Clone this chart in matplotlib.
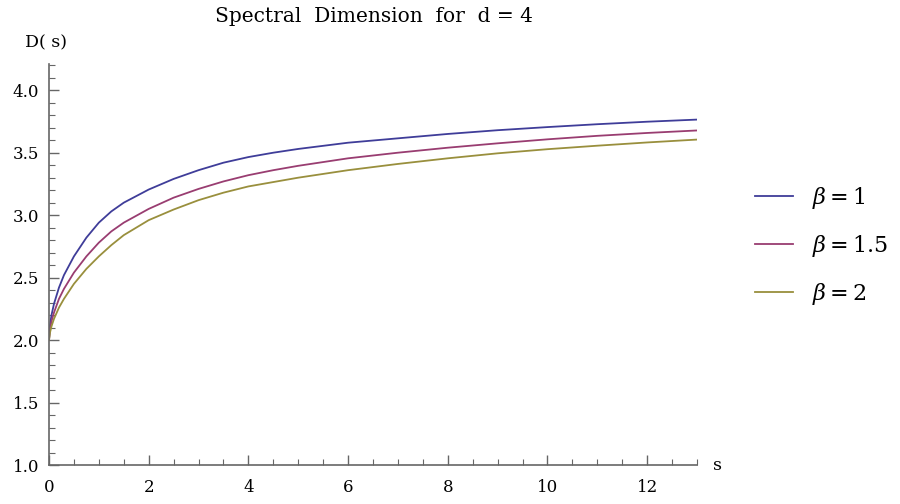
import matplotlib
matplotlib.use("Agg")
import matplotlib.pyplot as plt
from matplotlib.ticker import MultipleLocator

# Data
s_vals = [0, 0.02, 0.05, 0.1, 0.2, 0.3, 0.5, 0.75, 1.0, 1.25, 1.5, 2.0, 2.5, 3.0, 3.5, 4.0, 4.5,
          5.0, 6.0, 7.0, 8.0, 9.0, 10.0, 11.0, 12.0, 13.0]
d_beta1 = [2.00, 2.12, 2.20, 2.29, 2.42, 2.52, 2.67, 2.82, 2.94, 3.03, 3.10, 3.205, 3.29, 3.36, 3.42,
           3.465, 3.50, 3.53, 3.58, 3.615, 3.65, 3.68, 3.705, 3.728, 3.748, 3.765]
d_beta15 = [2.00, 2.09, 2.15, 2.22, 2.33, 2.41, 2.54, 2.67, 2.78, 2.87, 2.94, 3.05, 3.14, 3.21, 3.27,
            3.32, 3.36, 3.395, 3.455, 3.50, 3.54, 3.575, 3.607, 3.635, 3.658, 3.678]
d_beta2 = [2.00, 2.06, 2.11, 2.17, 2.26, 2.33, 2.45, 2.57, 2.67, 2.76, 2.84, 2.96, 3.045, 3.12, 3.18,
           3.23, 3.265, 3.30, 3.36, 3.41, 3.455, 3.495, 3.528, 3.556, 3.582, 3.605]
labels = [r"$\beta = 1$", r"$\beta = 1.5$", r"$\beta = 2$"]
colors = ["#3f3d99", "#993d71", "#998f3d"]
x_ticks = [0, 2, 4, 6, 8, 10, 12]
y_ticks = [1.0, 1.5, 2.0, 2.5, 3.0, 3.5, 4.0]

plt.rcParams['font.family'] = ['DejaVu Serif']
plt.rcParams['mathtext.fontset'] = 'dejavuserif'

fig = plt.figure(figsize=(9, 5.04), dpi=100)
ax = fig.add_axes([49/900, 1-465/504, (697-49)/900, (465-64)/504])

for d, lab, c in zip([d_beta1, d_beta15, d_beta2], labels, colors):
    ax.plot(s_vals, d, color=c, lw=1.3, label=lab, solid_joinstyle='round')

ax.set_xlim(0, 13)
ax.set_ylim(1.0, 4.21)
ax.spines['top'].set_visible(False)
ax.spines['right'].set_visible(False)
for sp in ['left', 'bottom']:
    ax.spines[sp].set_color('#666666')
    ax.spines[sp].set_linewidth(1.2)
ax.set_xticks(x_ticks)
ax.set_yticks(y_ticks)
ax.set_xticklabels([str(v) for v in x_ticks])
ax.set_yticklabels([f"{v:.1f}" for v in y_ticks])
ax.xaxis.set_minor_locator(MultipleLocator(0.5))
ax.yaxis.set_minor_locator(MultipleLocator(0.1))
ax.tick_params(which='major', direction='in', length=7, width=1, color='#666666', labelsize=12)
ax.tick_params(which='minor', direction='in', length=4, width=0.8, color='#666666')
ax.tick_params(axis='y', which='major', pad=7)
ax.tick_params(axis='x', which='major', pad=10)

fig.text(373.5/900, 1-17/504, "Spectral  Dimension  for  d = 4", fontsize=14.5,
         ha='center', va='center')
fig.text(46/900, 1-43/504, "D( s)", fontsize=12.5, ha='center', va='center')
fig.text(718/900, 1-466/504, "s", fontsize=12.5, ha='center', va='center')

leg = ax.legend(loc='center left', bbox_to_anchor=(755/900, 1-246/504),
                bbox_transform=fig.transFigure, frameon=False, borderpad=0, borderaxespad=0,
                fontsize=16, handlelength=1.71, handletextpad=0.85, labelspacing=1.0)

fig.savefig("out.png", dpi=100)
